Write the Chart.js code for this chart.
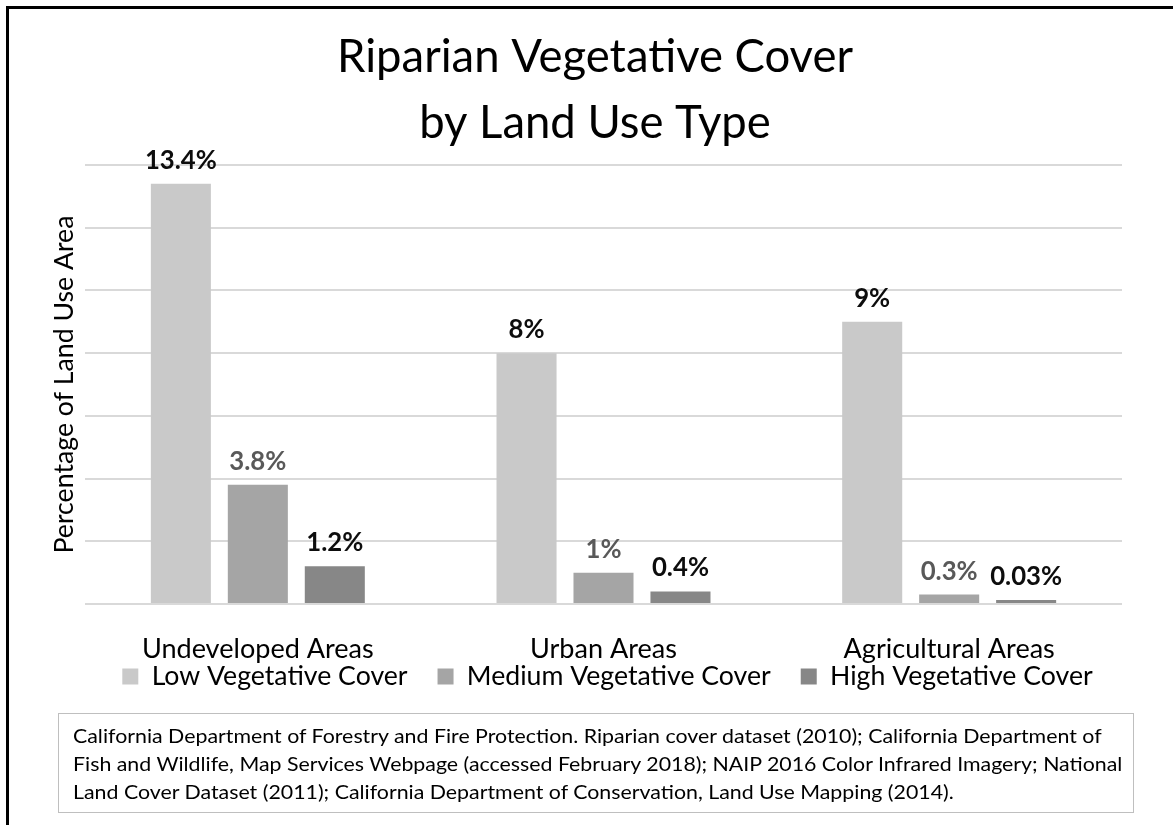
<!DOCTYPE html>
<html><head><meta charset="utf-8">
<script src="https://cdn.jsdelivr.net/npm/chart.js@4.4.1/dist/chart.umd.min.js"></script>
<style>
html,body{margin:0;padding:0;background:#fff;}
body{width:1173px;height:825px;position:relative;overflow:hidden;font-family:Lato,sans-serif;}
#frame{position:absolute;left:6px;top:6px;width:1300px;height:1000px;border-left:3px solid #000;border-top:3px solid #000;}
#wrap{position:absolute;left:0;top:0;width:1173px;height:825px;}
#src{position:absolute;left:58px;top:713px;width:1076px;height:100px;border:1.5px solid #bfbfbf;box-sizing:border-box;}
.sl{position:absolute;left:73px;white-space:nowrap;transform-origin:0 0;color:#000;}
</style></head><body>
<div id="frame"></div>
<div id="wrap"><canvas id="c" width="1173" height="825"></canvas></div>
<div id="src"></div>
<div id="srcText"></div>
<script>
// ---- data ----
const categories = ['Undeveloped Areas', 'Urban Areas', 'Agricultural Areas'];
const seriesNames = ['Low Vegetative Cover', 'Medium Vegetative Cover', 'High Vegetative Cover'];
const lowValues = [13.4, 8, 9];
const mediumValues = [3.8, 1, 0.3];
const highValues = [1.2, 0.4, 0.03];
const yTicks = [0, 2, 4, 6, 8, 10, 12, 14];
const titleLines = ['Riparian Vegetative Cover', 'by Land Use Type'];
const yTitle = 'Percentage of Land Use Area';
const sourceLines = [
  'California Department of Forestry and Fire Protection. Riparian cover dataset (2010); California Department of',
  'Fish and Wildlife, Map Services Webpage (accessed February 2018); NAIP 2016 Color Infrared Imagery; National',
  'Land Cover Dataset (2011); California Department of Conservation, Land Use Mapping (2014).'
];

// ---- styling helpers ----
const FAM = 'Lato';
const mc = document.createElement('canvas').getContext('2d');
function fitSize(text, target, weight) {
  mc.font = weight + ' 100px ' + FAM;
  return 100 * target / mc.measureText(text).width;
}
function baseBelow(size, weight, base) {
  mc.font = weight + ' ' + size + 'px ' + FAM;
  mc.textBaseline = 'alphabetic';
  const a = mc.measureText('H').actualBoundingBoxAscent;
  mc.textBaseline = base;
  const b = mc.measureText('H').actualBoundingBoxAscent;
  mc.textBaseline = 'alphabetic';
  return a - b;
}
function textW(text, size, weight) {
  mc.font = weight + ' ' + size + 'px ' + FAM;
  return mc.measureText(text).width;
}

// layout targets (px)
const AREA_TOP = 165, AREA_BOTTOM = 604, AREA_LEFT = 85, AREA_RIGHT = 1122;
const PAD_LEFT = 68;

// title
const titleSize = fitSize(titleLines[0], 516, 400);
const TITLE_LH = 66;
const titlePadTop = 72 - baseBelow(titleSize, 400, 'middle') - TITLE_LH / 2;
const titlePadBottom = AREA_TOP - titlePadTop - 2 * TITLE_LH;

// x labels
const xSize = fitSize(categories[0], 232, 400);
const xLH = xSize * 1.2;
const xPad = 650 - AREA_BOTTOM - xLH / 2 - baseBelow(xSize, 400, 'middle');
const X_AXIS_H = 70;

// legend
const legSize = fitSize(seriesNames[0], 256, 400);
const BOX = 16;
const itemH = Math.max(legSize, BOX);
let sumW = 0;
seriesNames.forEach(n => { sumW += BOX + legSize / 2 + textW(n, legSize, 400); });
const legPad = Math.min(37, Math.floor((AREA_RIGHT - AREA_LEFT - sumW) / 4) - 1);
const legTop = 685 - baseBelow(legSize, 400, 'middle') - legPad - itemH / 2;
const legH = itemH + legPad + 10;
const padBottom = 825 - (AREA_BOTTOM + X_AXIS_H + legH);
const LEG_DX = 4;

// y title
const ySize = fitSize(yTitle, 338, 400);
const yLH = ySize * 1.2;
const yTitlePadTop = (73 - baseBelow(ySize, 400, 'middle') - PAD_LEFT) - yLH / 2;

// data labels
const dlSize = fitSize('13.4%', 72, 700);
const dlColors = ['#0d0d0d', '#595959', '#0d0d0d'];

const dataLabels = {
  id: 'dataLabels',
  afterDatasetsDraw(chart) {
    const ctx = chart.ctx;
    ctx.save();
    ctx.font = '700 ' + dlSize + 'px ' + FAM;
    ctx.textAlign = 'center';
    ctx.textBaseline = 'alphabetic';
    chart.data.datasets.forEach((ds, i) => {
      const meta = chart.getDatasetMeta(i);
      ctx.fillStyle = dlColors[i];
      meta.data.forEach((bar, j) => {
        ctx.fillText(String(ds.data[j]) + '%', bar.x, bar.y - 15);
      });
    });
    ctx.restore();
  }
};

// place the legend box tight under the category labels
const legendPlace = {
  id: 'legendPlace',
  afterLayout(chart) {
    const lg = chart.legend;
    if (!lg) return;
    const dy = legTop - lg.top;
    lg.top += dy; lg.bottom += dy;
    lg.left += LEG_DX; lg.right += LEG_DX;
  }
};

Chart.defaults.font.family = FAM;
Chart.defaults.color = '#000';

new Chart(document.getElementById('c'), {
  type: 'bar',
  data: {
    labels: categories,
    datasets: [
      { label: seriesNames[0], data: lowValues, backgroundColor: '#c9c9c9' },
      { label: seriesNames[1], data: mediumValues, backgroundColor: '#a5a5a5' },
      { label: seriesNames[2], data: highValues, backgroundColor: '#878787' }
    ]
  },
  options: {
    responsive: false,
    animation: false,
    devicePixelRatio: 1,
    layout: { padding: { left: PAD_LEFT, right: 1173 - AREA_RIGHT, top: 0, bottom: padBottom } },
    datasets: { bar: { categoryPercentage: 0.668, barPercentage: 0.78, minBarLength: 4 } },
    scales: {
      x: {
        grid: { display: false },
        border: { display: false },
        ticks: { font: { size: xSize, lineHeight: 1.2 }, padding: xPad, color: '#000',
                 autoSkip: false, maxRotation: 0, minRotation: 0 },
        afterFit(s) { s.height = X_AXIS_H; }
      },
      y: {
        min: 0, max: 14,
        afterBuildTicks(s) { s.ticks = yTicks.map(v => ({ value: v })); },
        ticks: { display: false },
        grid: { color: '#d9d9d9', lineWidth: 2, drawTicks: false },
        border: { display: false },
        title: { display: true, text: yTitle, font: { size: ySize, lineHeight: 1.2 }, padding: { top: yTitlePadTop, bottom: 0 }, color: '#000' },
        afterFit(s) { s.width = AREA_LEFT - PAD_LEFT; }
      }
    },
    plugins: {
      title: {
        display: true,
        text: titleLines,
        font: { size: titleSize, weight: '400', lineHeight: TITLE_LH + 'px' },
        color: '#000',
        padding: { top: titlePadTop, bottom: titlePadBottom }
      },
      legend: {
        position: 'bottom',
        fullSize: false,
        labels: { boxWidth: BOX, boxHeight: BOX, padding: legPad, font: { size: legSize }, color: '#000' }
      },
      tooltip: { enabled: false }
    }
  },
  plugins: [dataLabels, legendPlace]
});

// source text
(function () {
  mc.font = '400 100px ' + FAM;
  const capRatio = mc.measureText('H').actualBoundingBoxAscent / 100;
  const sz = 14 / capRatio;
  mc.font = '400 ' + sz + 'px ' + FAM;
  const m = mc.measureText(sourceLines[0]);
  const k = 1030 / m.width;
  const fA = m.fontBoundingBoxAscent, fD = m.fontBoundingBoxDescent;
  const lh = sz * 1.2;
  const baseInBox = (lh - (fA + fD)) / 2 + fA;
  const baselines = [743, 771, 799];
  const host = document.getElementById('srcText');
  sourceLines.forEach((t, i) => {
    const d = document.createElement('div');
    d.className = 'sl';
    d.textContent = t;
    d.style.fontSize = sz + 'px';
    d.style.lineHeight = lh + 'px';
    d.style.top = (baselines[i] - baseInBox) + 'px';
    d.style.transform = 'scaleX(' + k + ')';
    host.appendChild(d);
  });
})();
</script>
</body></html>
